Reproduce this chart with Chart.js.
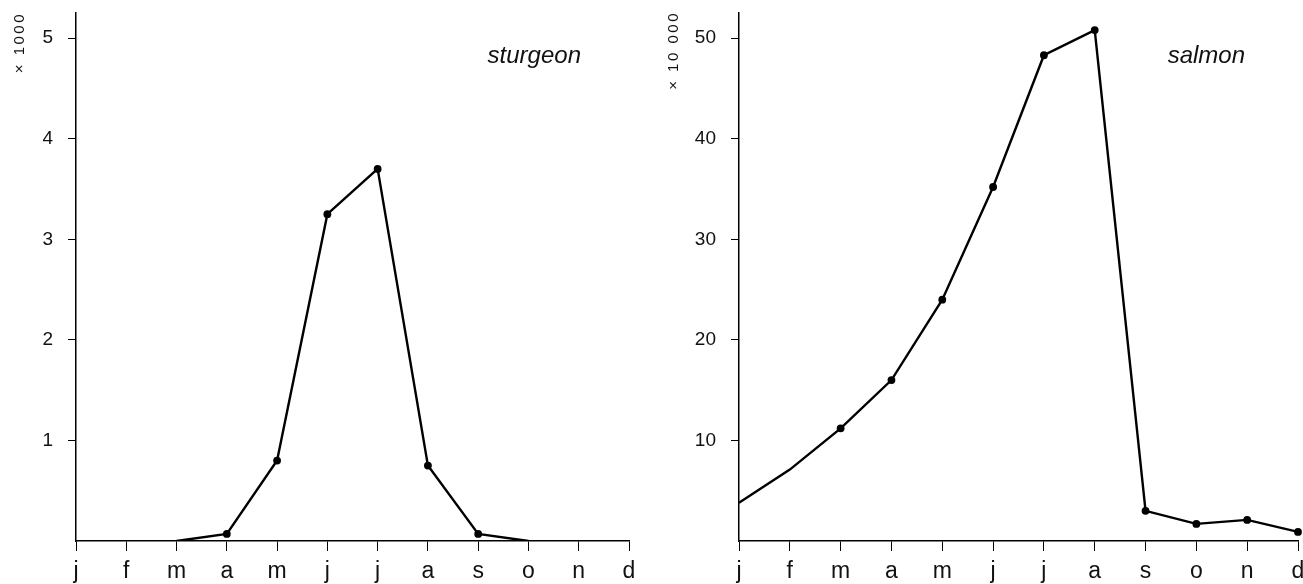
<!DOCTYPE html>
<html><head><meta charset="utf-8">
<script src="https://cdn.jsdelivr.net/npm/chart.js@4"></script>
<style>
body{margin:0;background:#fff;width:1303px;height:584px;overflow:hidden;position:relative}
canvas{position:absolute;top:0}
</style>
</head><body>
<canvas id="c1" width="655" height="584" style="left:0px"></canvas>
<canvas id="c2" width="648" height="584" style="left:655px"></canvas>
<script>
const months = ['j','f','m','a','m','j','j','a','s','o','n','d'];
const sturgeon = [null,null,0,0.07,0.8,3.25,3.7,0.75,0.07,0,null,null];
const sturgeonDots = [0,0,0,1,1,1,1,1,1,0,0,0];
const salmon = [3.8,7.1,11.2,16.0,24.0,35.2,48.3,50.8,3.0,1.7,2.1,0.9];
const salmonDots = [0,0,1,1,1,1,1,1,1,1,1,1];
const sturgeonTicks = [1,2,3,4,5];
const salmonTicks = [10,20,30,40,50];

const FONT = '"Liberation Sans", Arial, Helvetica, sans-serif';

function makeChart(id, data, dots, ticks, ymax, unit, unitPos, title, titleRight, yWidth, padRight){
  const textPlugin = {
    id: 'label_' + id,
    afterDraw(chart){
      const c = chart.ctx;
      c.save();
      c.font = 'italic 24px ' + FONT;
      c.fillStyle = '#111';
      c.textAlign = 'right';
      c.textBaseline = 'alphabetic';
      c.fillText(title, titleRight, 63);
      c.restore();
      c.save();
      c.font = '15px ' + FONT;
      c.fillStyle = '#111';
      try { c.letterSpacing = '2.5px'; } catch(e) {}
      c.translate(unitPos[0], unitPos[1]);
      c.rotate(-Math.PI / 2);
      c.textAlign = 'right';
      c.textBaseline = 'middle';
      c.fillText(unit, 0, 0);
      c.restore();
    }
  };
  return new Chart(document.getElementById(id), {
    type: 'line',
    data: {
      labels: months,
      datasets: [{
        data: data,
        borderColor: '#000',
        borderWidth: 2.4,
        backgroundColor: '#000',
        pointBackgroundColor: '#000',
        pointBorderWidth: 0,
        pointRadius: dots.map(d => d ? 3.9 : 0),
        tension: 0,
        spanGaps: false,
        fill: false
      }]
    },
    options: {
      responsive: false,
      animation: false,
      devicePixelRatio: 1,
      layout: { padding: { top: 13, right: padRight, bottom: 0, left: 0 } },
      plugins: { legend: { display: false }, tooltip: { enabled: false } },
      scales: {
        x: {
          type: 'category',
          offset: false,
          border: { display: true, color: '#000', width: 1.5 },
          grid: { drawOnChartArea: false, drawTicks: true, tickLength: 10, color: '#000', lineWidth: 1 },
          ticks: { color: '#111', font: { family: FONT, size: 23 }, padding: 7, maxRotation: 0, autoSkip: false },
          afterFit: s => { s.height = 43; s.paddingLeft = 0; s.paddingRight = 0; }
        },
        y: {
          min: 0, max: ymax,
          border: { display: true, color: '#000', width: 1.5 },
          grid: { drawOnChartArea: false, drawTicks: true, tickLength: 8, color: '#000', lineWidth: 1 },
          ticks: { color: '#111', font: { family: FONT, size: 19 }, padding: 15 },
          afterBuildTicks: s => { s.ticks = ticks.map(v => ({ value: v })); },
          afterFit: s => { s.width = yWidth; s.paddingTop = 0; s.paddingBottom = 0; }
        }
      }
    },
    plugins: [textPlugin]
  });
}

makeChart('c1', sturgeon, sturgeonDots, sturgeonTicks, 5.25, '× 1000', [20, 12], 'sturgeon', 581, 76, 26);
makeChart('c2', salmon, salmonDots, salmonTicks, 52.5, '× 10 000', [19, 11], 'salmon', 590, 84, 5);
</script>
</body></html>
